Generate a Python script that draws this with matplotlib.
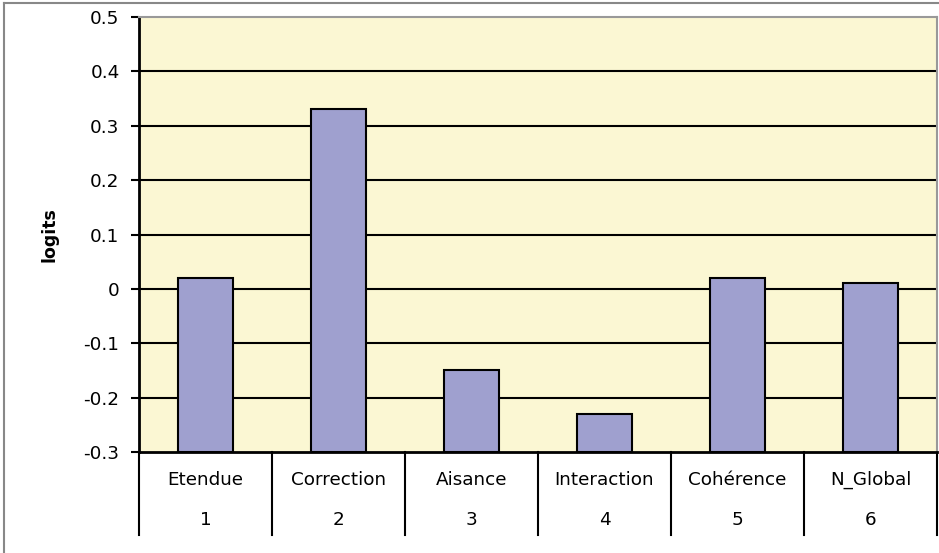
import matplotlib
matplotlib.use("Agg")
import matplotlib.pyplot as plt
from matplotlib.lines import Line2D
import numpy as np

categories = ["Etendue", "Correction", "Aisance", "Interaction", "Cohérence", "N_Global"]
numbers = ["1", "2", "3", "4", "5", "6"]
values = [0.02, 0.33, -0.15, -0.23, 0.02, 0.01]
yticks = [-0.3, -0.2, -0.1, 0.0, 0.1, 0.2, 0.3, 0.4, 0.5]
ytick_labels = ["-0.3", "-0.2", "-0.1", "0", "0.1", "0.2", "0.3", "0.4", "0.5"]

plt.rcParams['font.family'] = ['DejaVu Sans']
FS = 13.2

W, H = 939, 553
fig = plt.figure(figsize=(W / 100, H / 100), dpi=100)
left, right, top, bottom = 139, 937, 17, 452
ax = fig.add_axes([left / W, 1 - bottom / H, (right - left) / W, (bottom - top) / H])

ymin, ymax = -0.3, 0.5
ax.set_facecolor("#FBF7D3")
x = np.arange(len(categories))
vals = np.array(values)
ax.bar(x, vals - ymin, bottom=ymin, width=0.41, color="#9FA0CF",
       edgecolor="black", linewidth=1.5, zorder=3)
ax.set_xlim(-0.5, len(categories) - 0.5)
ax.set_ylim(ymin, ymax)

for yv in yticks[1:-1]:
    ax.axhline(yv, color="black", linewidth=1.5, zorder=1)

ax.set_yticks(yticks)
ax.set_yticklabels(ytick_labels, fontsize=FS)
ax.tick_params(axis='y', length=6, width=1.5, pad=8, direction='out')
ax.set_xticks([])

for s in ["left", "bottom"]:
    ax.spines[s].set_color("black")
    ax.spines[s].set_linewidth(2)
for s in ["top", "right"]:
    ax.spines[s].set_color("#999999")
    ax.spines[s].set_linewidth(1.5)

ax.set_ylabel("logits", fontsize=12.5, fontweight="bold", labelpad=18)

# category axis: two-level labels with separators
trans = ax.get_xaxis_transform()
sep_depth = -(535 - 452) / (bottom - top)
for b in np.arange(len(categories) + 1) - 0.5:
    ax.add_line(Line2D([b, b], [0, sep_depth], transform=trans, color="black",
                       linewidth=1.5, clip_on=False))
name_y = -(480 - 452) / (bottom - top)
num_y = -(520 - 452) / (bottom - top)
for xi, name, num in zip(x, categories, numbers):
    ax.text(xi, name_y, name, transform=trans, ha="center", va="center", fontsize=FS)
    ax.text(xi, num_y, num, transform=trans, ha="center", va="center", fontsize=FS)

# outer chart border
fx = lambda px: px / W
fy = lambda py: 1 - py / H
fig.add_artist(Line2D([fx(4), fx(4)], [fy(3), 0], color="#888888", linewidth=1.5))
fig.add_artist(Line2D([fx(4), fx(938)], [fy(3), fy(3)], color="#888888", linewidth=1.5))

fig.savefig("out.png", dpi=100)
